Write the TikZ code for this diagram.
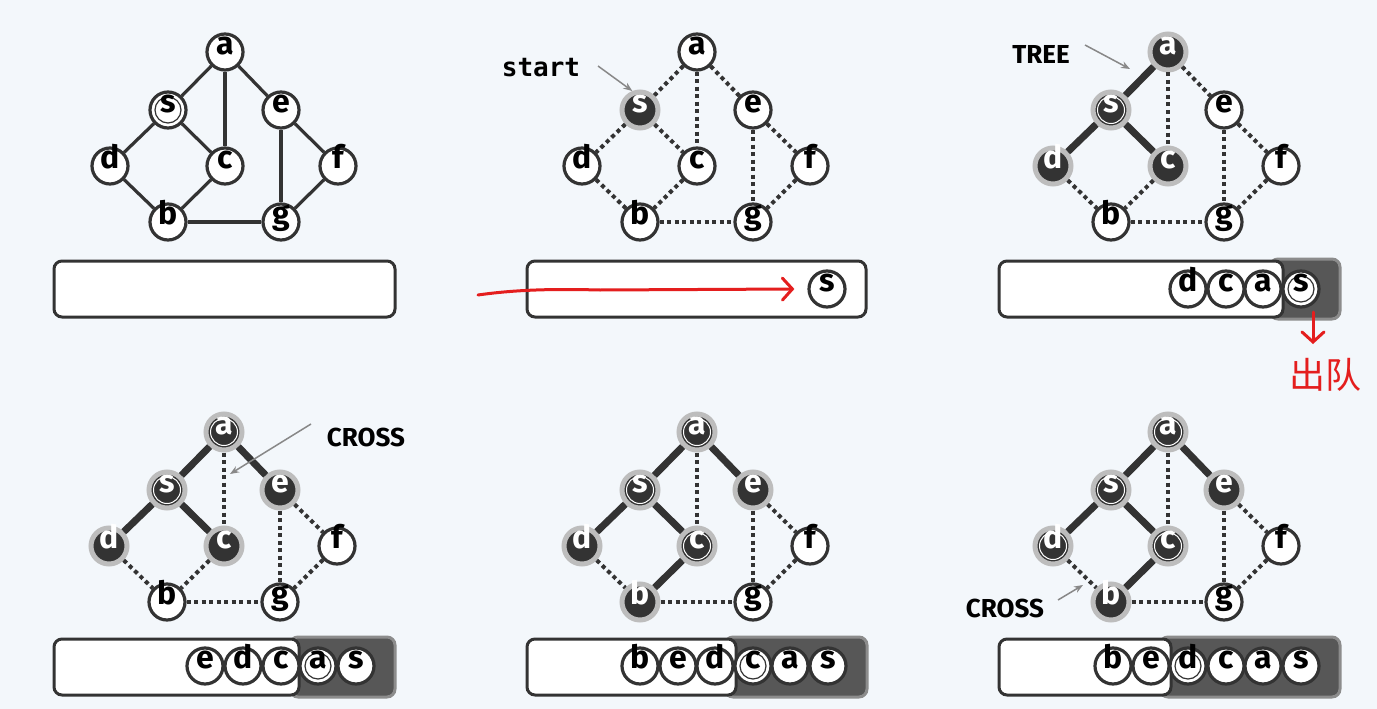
\documentclass[tikz,border=0pt]{standalone}
\usepackage{fontspec}
\setmainfont{Fira Sans}
\newfontfamily\monofont{DejaVu Sans Mono}
\newfontfamily\cjkfont{Noto Sans CJK SC}
\usetikzlibrary{arrows.meta}

\definecolor{bgc}{HTML}{F3F7FB}
\definecolor{edgec}{HTML}{333333}
\definecolor{haloc}{HTML}{BDBDBD}
\definecolor{qdark}{HTML}{575757}
\definecolor{qdarkb}{HTML}{8C8C8C}
\definecolor{labc}{HTML}{888888}
\definecolor{redc}{HTML}{E41E1E}

\tikzset{
  vtx/.style={circle, draw=edgec, line width=3.2pt, fill=white, minimum size=36pt, inner sep=0pt,
    text=black, text height=1ex, text depth=0pt, font=\fontsize{32}{32}\selectfont\bfseries},
  fresh/.style={},
  seen/.style={fill=edgec, draw=haloc, line width=5pt, text=white},
  done/.style={seen, path picture={\draw[white, line width=1pt] (path picture bounding box.center) circle (13.5pt);}},
  first/.style={path picture={\draw[edgec, line width=1.2pt] (path picture bounding box.center) circle (13pt);}},
  link/.style={draw=edgec, line width=3.2pt},
  open/.style={draw=edgec, line width=4pt, dash pattern=on 4pt off 3.5pt},
  tree/.style={draw=edgec, line width=7pt},
  qbox/.style={fill=white, draw=edgec, line width=3pt, rounded corners=8pt},
  qdone/.style={fill=qdark, draw=qdarkb, line width=3pt, rounded corners=8pt},
  tag/.style={text=black, font=\fontsize{26}{26}\selectfont\bfseries},
  pointer/.style={draw=labc, line width=1.5pt, -{Stealth[length=9pt, width=7pt]}},
  redpen/.style={draw=redc, line width=3pt, line cap=round, line join=round,
    -{Straight Barb[length=10pt, width=22pt, line cap=round]}}
}

\newcommand{\placegraph}[9]{%
  \node[vtx,#2] (a#1) at (0,0) {a};
  \node[vtx,#3] (s#1) at (-57,58) {s};
  \node[vtx,#4] (e#1) at (56,58) {e};
  \node[vtx,#5] (d#1) at (-115,114) {d};
  \node[vtx,#6] (c#1) at (0,114) {c};
  \node[vtx,#7] (f#1) at (113,114) {f};
  \node[vtx,#8] (b#1) at (-57,170) {b};
  \node[vtx,#9] (g#1) at (56,170) {g};
}

\begin{document}
\begin{tikzpicture}[x=1pt, y=-1pt]
\fill[bgc] (0,0) rectangle (1377,709);
\useasboundingbox (0,0) rectangle (1377,709);

\begin{scope}[shift={(225,52)}]
  \placegraph{1}{fresh}{first}{fresh}{fresh}{fresh}{fresh}{fresh}{fresh}
\end{scope}
\foreach \u/\v in {a/s,a/c,a/e,s/d,s/c,e/g,e/f,d/b,c/b,b/g,f/g}
  \draw[link] (\u1) -- (\v1);

\begin{scope}[shift={(697,52)}]
  \placegraph{2}{fresh}{seen}{fresh}{fresh}{fresh}{fresh}{fresh}{fresh}
\end{scope}
\foreach \u/\v in {a/s,a/c,a/e,s/d,s/c,e/g,e/f,d/b,c/b,b/g,f/g}
  \draw[open] (\u2) -- (\v2);

\begin{scope}[shift={(1168,52)}]
  \placegraph{3}{seen}{done}{fresh}{seen}{seen}{fresh}{fresh}{fresh}
\end{scope}
\foreach \u/\v in {a/s,s/d,s/c}
  \draw[tree] (\u3) -- (\v3);
\foreach \u/\v in {a/c,a/e,e/g,e/f,d/b,c/b,b/g,f/g}
  \draw[open] (\u3) -- (\v3);

\begin{scope}[shift={(224,432)}]
  \placegraph{4}{done}{done}{seen}{seen}{seen}{fresh}{fresh}{fresh}
\end{scope}
\foreach \u/\v in {a/s,a/e,s/d,s/c}
  \draw[tree] (\u4) -- (\v4);
\foreach \u/\v in {a/c,e/g,e/f,d/b,c/b,b/g,f/g}
  \draw[open] (\u4) -- (\v4);

\begin{scope}[shift={(697,432)}]
  \placegraph{5}{done}{done}{seen}{seen}{done}{fresh}{seen}{fresh}
\end{scope}
\foreach \u/\v in {a/s,a/e,s/d,s/c,c/b}
  \draw[tree] (\u5) -- (\v5);
\foreach \u/\v in {a/c,e/g,e/f,d/b,b/g,f/g}
  \draw[open] (\u5) -- (\v5);

\begin{scope}[shift={(1168,432)}]
  \placegraph{6}{done}{done}{seen}{done}{done}{fresh}{seen}{fresh}
\end{scope}
\foreach \u/\v in {a/s,a/e,s/d,s/c,c/b}
  \draw[tree] (\u6) -- (\v6);
\foreach \u/\v in {a/c,e/g,e/f,d/b,b/g,f/g}
  \draw[open] (\u6) -- (\v6);

\draw[qbox] (54,261) rectangle (395,317);

\draw[qbox] (527,261) rectangle (866,317);
\node[vtx] (q2s) at (827,289) {s};

\draw[qdone] (1270,259) rectangle (1340,319);
\draw[qbox] (999,261) rectangle (1283,317);
\foreach \n/\x in {d/1188,c/1226,a/1263}
  \node[vtx] (q3\n) at (\x,289) {\n};
\node[vtx,first] (q3s) at (1301,289) {s};

\draw[qdone] (290,637) rectangle (395,697);
\draw[qbox] (54,639) rectangle (299,695);
\foreach \n/\x in {e/205,d/243,c/281}
  \node[vtx] (q4\n) at (\x,666) {\n};
\node[vtx,first] (q4a) at (318,666) {a};
\node[vtx] (q4s) at (356,666) {s};

\draw[qdone] (725,637) rectangle (867,697);
\draw[qbox] (527,639) rectangle (736,695);
\foreach \n/\x in {b/640,e/678,d/715}
  \node[vtx] (q5\n) at (\x,666) {\n};
\node[vtx,first] (q5c) at (753,666) {c};
\foreach \n/\x in {a/790,s/828}
  \node[vtx] (q5\n) at (\x,666) {\n};

\draw[qdone] (1160,637) rectangle (1340,697);
\draw[qbox] (999,639) rectangle (1171,695);
\foreach \n/\x in {b/1113,e/1151}
  \node[vtx] (q6\n) at (\x,666) {\n};
\node[vtx,first] (q6d) at (1188,666) {d};
\foreach \n/\x in {c/1226,a/1263,s/1301}
  \node[vtx] (q6\n) at (\x,666) {\n};

\node[tag, font=\fontsize{26}{26}\selectfont\monofont\bfseries] (start) at (541,68) {start};
\coordinate (startfrom) at (598,66);
\draw[pointer] (startfrom) -- (s2.112);

\node[tag] (treetag) at (1041,54) {TREE};
\coordinate (treefrom) at (1085,45);
\coordinate (treeto) at (1130,69);
\draw[pointer] (treefrom) -- (treeto);

\node[tag] (crossup) at (366,437) {CROSS};
\coordinate (crossfrom) at (311,424);
\coordinate (crossto) at (230,474);
\draw[pointer] (crossfrom) -- (crossto);

\node[tag] (crossdown) at (1005,608) {CROSS};
\coordinate (cdfrom) at (1058,600);
\coordinate (cdto) at (1083,585);
\draw[pointer] (cdfrom) -- (cdto);

\coordinate (penstart) at (478,295);
\draw[redpen] (penstart) .. controls (520,289) and (560,289) .. (600,290) -- ([xshift=-13pt]q2s.west);

\coordinate (outfrom) at (1313,312);
\coordinate (outto) at (1313,344);
\draw[redpen] (outfrom) -- (outto);
\node[text=redc, font=\fontsize{36}{36}\selectfont\cjkfont] (outlabel) at (1325,375) {出队};
\end{tikzpicture}
\end{document}
